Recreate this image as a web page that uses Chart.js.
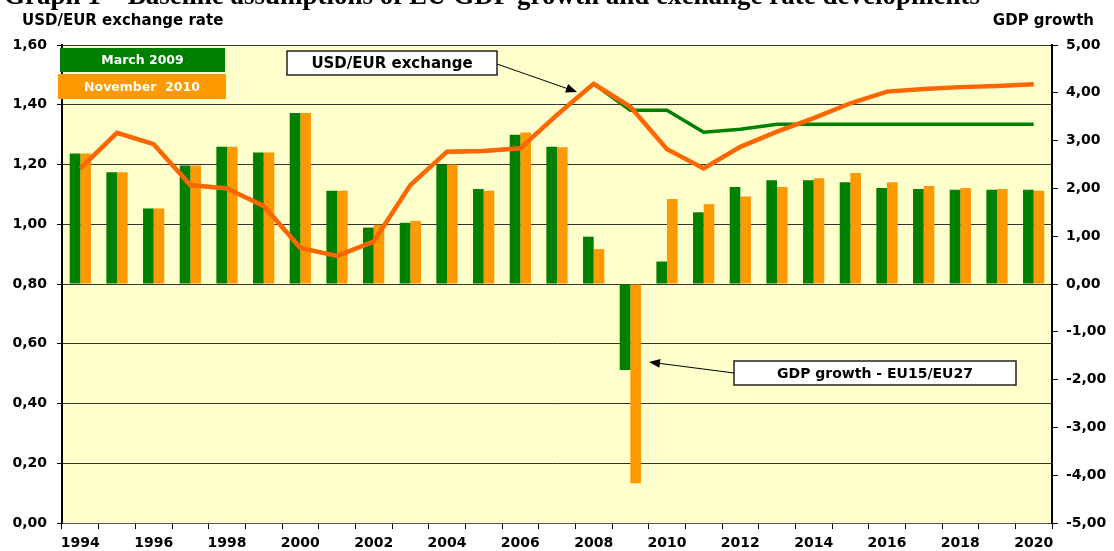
<!DOCTYPE html>
<html>
<head>
<meta charset="utf-8">
<script src="https://cdn.jsdelivr.net/npm/chart.js@4.4.1/dist/chart.umd.min.js"></script>
<style>
    html, body { margin: 0; padding: 0; background: #ffffff; }
    #wrap { position: relative; width: 1114px; height: 551px; }
</style>
</head>
<body>
<div id="wrap"><canvas id="gdpChart" width="1114" height="551"></canvas></div>
<script>
const years = ['1994', '1995', '1996', '1997', '1998', '1999', '2000', '2001', '2002', '2003',
    '2004', '2005', '2006', '2007', '2008', '2009', '2010', '2011', '2012', '2013',
    '2014', '2015', '2016', '2017', '2018', '2019', '2020'];

// GDP growth EU15/EU27 (right axis, %)
const gdpMarch2009 = [2.73, 2.34, 1.58, 2.48, 2.87, 2.75, 3.58, 1.95, 1.18, 1.28,
    2.50, 1.99, 3.12, 2.87, 0.99, -1.80, 0.47, 1.50, 2.03, 2.17,
    2.17, 2.13, 2.01, 1.99, 1.97, 1.97, 1.97];
const gdpNov2010 = [2.73, 2.34, 1.58, 2.48, 2.87, 2.75, 3.58, 1.95, 1.24, 1.32,
    2.50, 1.95, 3.17, 2.86, 0.73, -4.17, 1.78, 1.67, 1.83, 2.03,
    2.21, 2.32, 2.13, 2.05, 2.01, 1.99, 1.95];

// USD/EUR exchange rate (left axis)
const usdMarch2009 = [1.187, 1.306, 1.268, 1.131, 1.120, 1.061, 0.921, 0.894, 0.942, 1.131,
    1.243, 1.245, 1.254, 1.366, 1.470, 1.382, 1.382, 1.308, 1.318, 1.335,
    1.335, 1.335, 1.335, 1.335, 1.335, 1.335, 1.335];
const usdNov2010 = [1.187, 1.306, 1.268, 1.131, 1.120, 1.061, 0.921, 0.894, 0.942, 1.131,
    1.243, 1.245, 1.254, 1.366, 1.470, 1.393, 1.251, 1.187, 1.259, 1.310,
    1.355, 1.405, 1.444, 1.453, 1.459, 1.463, 1.469];

const seriesNames = ['March 2009', 'November  2010'];

const GREEN = '#008000';
const ORANGE_BAR = '#FF9900';
const ORANGE_LINE = '#FF6600';
const PLOTBG = '#FFFFCC';
const FONT = '"DejaVu Sans", "Liberation Sans", Arial, sans-serif';

var gdpChart;

function commaFmt(value) {
    return value.toFixed(2).replace('.', ',');
}

// yellow plot area
const plotBackground = {
    id: 'plotBackground',
    beforeDraw: function (chart) {
        const ctx = chart.ctx;
        const a = chart.chartArea;
        ctx.save();
        ctx.fillStyle = PLOTBG;
        ctx.fillRect(a.left, a.top, a.right - a.left, a.bottom - a.top);
        ctx.restore();
    }
};

function arrow(ctx, x1, y1, x2, y2) {
    var ang = Math.atan2(y2 - y1, x2 - x1);
    var len = 11;
    var half = 4.5;
    ctx.beginPath();
    ctx.moveTo(x1, y1);
    ctx.lineTo(x2 - Math.cos(ang) * len * 0.8, y2 - Math.sin(ang) * len * 0.8);
    ctx.stroke();
    ctx.beginPath();
    ctx.moveTo(x2, y2);
    ctx.lineTo(x2 - Math.cos(ang) * len + Math.sin(ang) * half, y2 - Math.sin(ang) * len - Math.cos(ang) * half);
    ctx.lineTo(x2 - Math.cos(ang) * len - Math.sin(ang) * half, y2 - Math.sin(ang) * len + Math.cos(ang) * half);
    ctx.closePath();
    ctx.fill();
}

function textBox(ctx, text, x, y, w, h, fill, textColor, size, border) {
    ctx.fillStyle = fill;
    ctx.fillRect(x, y, w, h);
    if (border) {
        ctx.strokeStyle = border;
        ctx.lineWidth = 1.5;
        ctx.strokeRect(x, y, w, h);
    }
    ctx.fillStyle = textColor;
    ctx.font = 'bold ' + size + 'px ' + FONT;
    ctx.textAlign = 'center';
    ctx.textBaseline = 'middle';
    ctx.fillText(text, x + w / 2, y + h / 2 + 1);
}

// titles, legend boxes and callouts
const decorations = {
    id: 'decorations',
    afterDraw: function (chart) {
        const ctx = chart.ctx;
        ctx.save();

        // main title, cut off at the top edge
        ctx.fillStyle = '#000';
        ctx.font = 'bold 27px "Liberation Serif", "Times New Roman", serif';
        ctx.textAlign = 'left';
        ctx.textBaseline = 'alphabetic';
        ctx.fillText('Graph 1 \u2013 Baseline assumptions of EU GDP growth and exchange rate developments', 4, 4);

        ctx.font = 'bold 15px ' + FONT;
        ctx.textAlign = 'left';
        ctx.fillText('USD/EUR exchange rate', 22, 25);
        ctx.textAlign = 'right';
        ctx.fillText('GDP growth', 1094, 25);

        // legend
        textBox(ctx, seriesNames[0], 60, 48, 165, 24, GREEN, '#fff', 12.5);
        textBox(ctx, seriesNames[1], 58, 74, 168, 25, ORANGE_BAR, '#fff', 12.5);

        // callouts
        textBox(ctx, 'USD/EUR exchange', 287, 51, 210, 24, '#fff', '#000', 15, '#222');
        textBox(ctx, 'GDP growth - EU15/EU27', 734, 361, 282, 24, '#fff', '#000', 14, '#222');

        ctx.strokeStyle = '#000';
        ctx.fillStyle = '#000';
        ctx.lineWidth = 1;
        arrow(ctx, 497, 64, 577, 92);
        arrow(ctx, 734, 373, 649, 362);

        ctx.restore();
    }
};

const data = {
    labels: years,
    datasets: [
        {
            type: 'line',
            label: 'USD/EUR ' + seriesNames[1],
            data: usdNov2010,
            yAxisID: 'y',
            borderColor: ORANGE_LINE,
            borderWidth: 4.5,
            pointRadius: 0,
            tension: 0,
            order: 0,
        },
        {
            type: 'line',
            label: 'USD/EUR ' + seriesNames[0],
            data: usdMarch2009,
            yAxisID: 'y',
            borderColor: GREEN,
            borderWidth: 3.5,
            pointRadius: 0,
            tension: 0,
            order: 1,
        },
        {
            type: 'bar',
            label: 'GDP ' + seriesNames[0],
            data: gdpMarch2009,
            yAxisID: 'y2',
            backgroundColor: GREEN,
            barPercentage: 1.0,
            categoryPercentage: 0.58,
            order: 2,
        },
        {
            type: 'bar',
            label: 'GDP ' + seriesNames[1],
            data: gdpNov2010,
            yAxisID: 'y2',
            backgroundColor: ORANGE_BAR,
            barPercentage: 1.0,
            categoryPercentage: 0.58,
            order: 3,
        }
    ]
};

const config = {
    type: 'bar',
    data: data,
    plugins: [plotBackground, decorations],
    options: {
        responsive: false,
        animation: false,
        layout: { padding: { top: 45, left: 0, right: 0, bottom: 0 } },
        plugins: {
            legend: { display: false },
            tooltip: { enabled: false },
            title: { display: false }
        },
        scales: {
            x: {
                offset: true,
                afterFit: function (s) { s.height = 28; },
                grid: { offset: true, drawOnChartArea: false, drawTicks: true, tickLength: 6, color: '#000' },
                border: { color: '#555', width: 1 },
                ticks: {
                    autoSkip: false,
                    maxRotation: 0,
                    padding: 6,
                    color: '#000',
                    font: { family: FONT, size: 14, weight: 'bold' },
                    callback: function (val, idx) { return idx % 2 == 0 ? years[idx] : ''; }
                }
            },
            y: {
                position: 'left',
                min: 0,
                max: 1.6,
                afterFit: function (s) { s.width = 62; },
                grid: { color: '#333', lineWidth: 1, tickColor: '#000', tickLength: 5 },
                border: { color: '#000', width: 2 },
                ticks: {
                    stepSize: 0.2,
                    padding: 10,
                    color: '#000',
                    font: { family: FONT, size: 14, weight: 'bold' },
                    callback: function (v) { return commaFmt(v); }
                }
            },
            y2: {
                position: 'right',
                min: -5,
                max: 5,
                afterFit: function (s) { s.width = 62; },
                grid: { drawOnChartArea: false, tickColor: '#000', tickLength: 6 },
                border: { color: '#000', width: 2 },
                ticks: {
                    stepSize: 1,
                    padding: 8,
                    color: '#000',
                    font: { family: FONT, size: 14, weight: 'bold' },
                    callback: function (v) { return commaFmt(v); }
                }
            }
        }
    }
};

window.addEventListener('DOMContentLoaded', function () {
    var ctx = document.getElementById('gdpChart');
    gdpChart = new Chart(ctx, config);
});
</script>
</body>
</html>
